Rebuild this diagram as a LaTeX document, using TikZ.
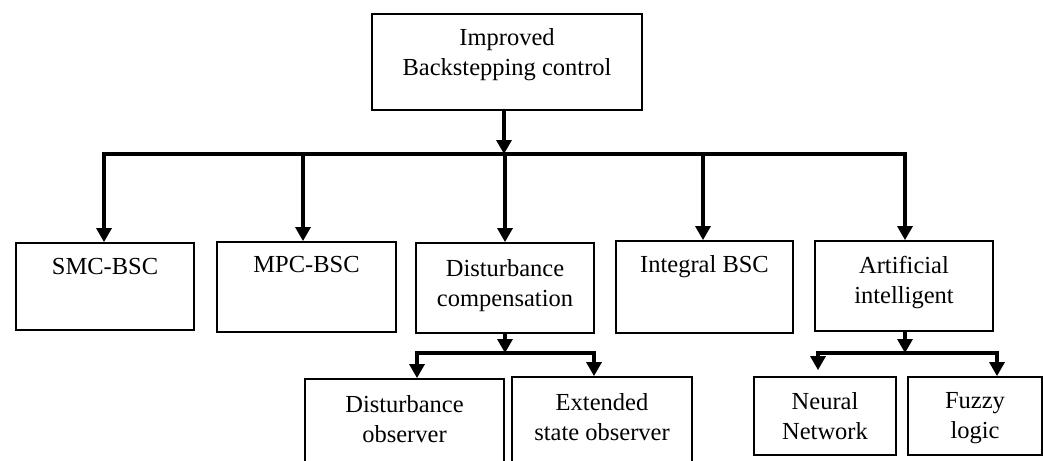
\documentclass[tikz,border=0pt]{standalone}
\usepackage{fontspec}
\setmainfont{Liberation Serif}
\usetikzlibrary{arrows.meta}
\tikzset{
  box/.style={draw=black, line width=1.8pt, fill=white, inner sep=0pt, minimum width=#1},
  txt/.style={align=center, inner sep=0pt, anchor=north, font=\fontsize{24.5}{30}\selectfont},
  conn/.style={line width=3.2pt, -{Triangle[width=15pt,length=14pt]}},
  bus/.style={line width=3.2pt, line cap=rect}
}
\begin{document}
\begin{tikzpicture}[x=1pt,y=-1pt]
\useasboundingbox (0,0) rectangle (1043,460);
\clip (0,0) rectangle (1043,460);
% boxes
\node[box=270pt, minimum height=96pt] (top) at (507,62) {};
\node[box=178pt, minimum height=87pt] (smc) at (105,286.5) {};
\node[box=179pt, minimum height=90pt] (mpc) at (306.5,287) {};
\node[box=178pt, minimum height=90pt] (dc) at (505,288) {};
\node[box=177pt, minimum height=92pt] (ibsc) at (704.5,287) {};
\node[box=178pt, minimum height=90pt] (ai) at (904,286) {};
\node[box=199pt, minimum height=102pt] (dobs) at (404.5,430) {};
\node[box=180pt, minimum height=104pt] (eso) at (602,429) {};
\node[box=142pt, minimum height=78pt] (nn) at (825,416) {};
\node[box=134pt, minimum height=78pt] (fl) at (975,416) {};
% texts
\node[txt] (topt) at ([yshift=-15pt]top.north) {Improved\\Backstepping control};
\node[txt] (smct) at ([yshift=-16pt]smc.north) {SMC-BSC};
\node[txt] (mpct) at ([yshift=-15pt]mpc.north) {MPC-BSC};
\node[txt] (dct) at ([yshift=-17pt]dc.north) {Disturbance\\compensation};
\node[txt] (ibsct) at ([yshift=-15pt]ibsc.north) {Integral BSC};
\node[txt] (ait) at ([yshift=-16pt]ai.north) {Artificial\\intelligent};
\node[txt] (dobst) at ([yshift=-17pt]dobs.north) {Disturbance\\observer};
\node[txt] (esot) at ([yshift=-17pt]eso.north) {Extended\\state observer};
\node[txt] (nnt) at ([yshift=-16pt]nn.north) {Neural\\Network};
\node[txt] (flt) at ([yshift=-16pt]fl.north) {Fuzzy\\logic};
% bus coordinates
\coordinate (b0) at (504,154);
\coordinate (bL) at (104,154);
\coordinate (bR) at (905,154);
\coordinate (d0) at (505,353);
\coordinate (dL) at (417,353);
\coordinate (dR) at (594,353);
\coordinate (a0) at (905,353);
\coordinate (aL) at (818,353);
\coordinate (aR) at (997,353);
% main connectors
\draw[conn] (top.south -| b0) -- (b0);
\draw[bus] (bL) -- (bR);
\draw[conn] (bL) -- (bL |- smc.north);
\draw[conn] (303,154) -- (303,0 |- mpc.north);
\draw[conn] (505,154) -- (505,0 |- dc.north);
\draw[conn] (703,154) -- (703,0 |- ibsc.north);
\draw[conn] (bR) -- (bR |- ai.north);
% disturbance compensation branch
\draw[conn] (dc.south -| d0) -- (d0);
\draw[bus] (dL) -- (dR);
\draw[conn] (dL) -- (dL |- dobs.north);
\draw[conn] (dR) -- (dR |- eso.north);
% AI branch
\draw[conn] (ai.south -| a0) -- (a0);
\draw[bus] (aL) -- (aR);
\draw[conn] (aL) -- ([yshift=6pt]aL |- nn.north);
\draw[conn] (aR) -- (aR |- fl.north);
\end{tikzpicture}
\end{document}
